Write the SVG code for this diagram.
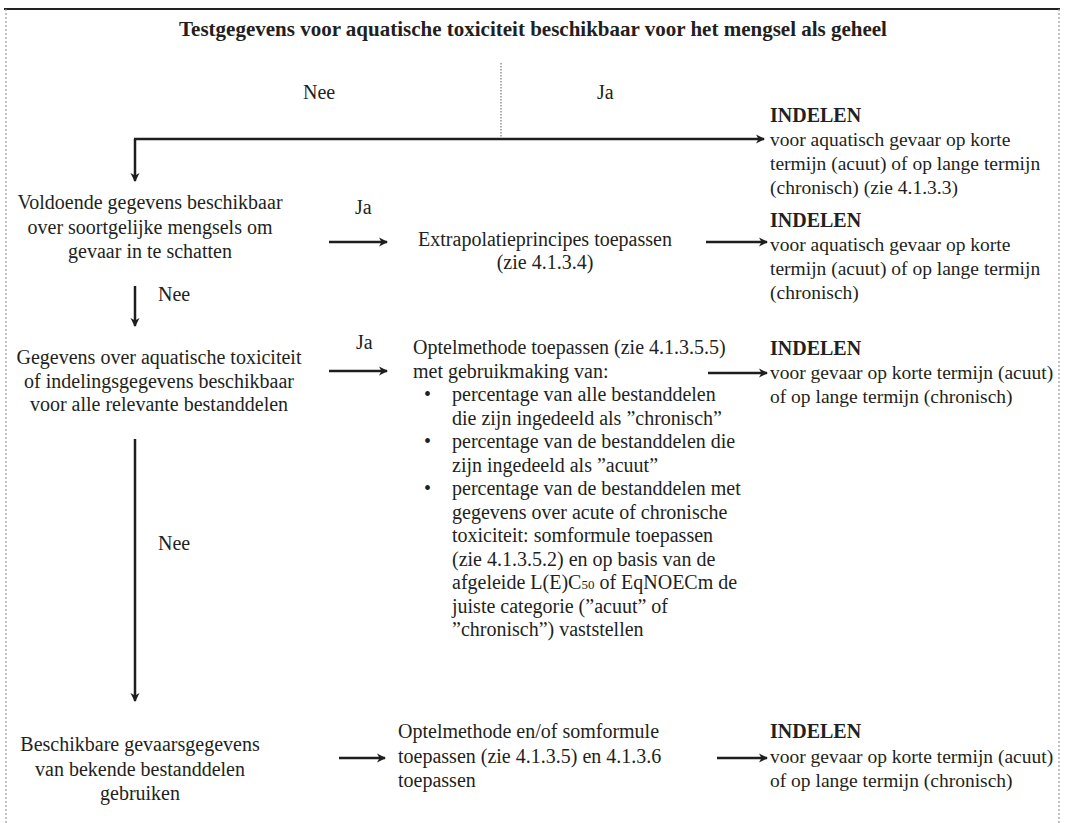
<svg xmlns="http://www.w3.org/2000/svg" width="1066" height="823" viewBox="0 0 1066 823">
<style>
  text { font-family: "Liberation Serif", "Times New Roman", serif; font-size: 20px; fill: #231f20; }
  .b { font-weight: bold; }
  .t { font-size: 21px; }
  .r { font-size: 19.5px; }
  .c { text-anchor: middle; }
  .ln { stroke: #1e1e1e; stroke-width: 2.5; fill: none; }
  .dot { stroke: #9a9a9a; stroke-width: 1.6; stroke-dasharray: 1.5 1.5; fill: none; }
  .frame { stroke: #9a9a9a; stroke-width: 1.2; stroke-dasharray: 2 2; fill: none; }
</style>
<defs>
  <marker id="ah" markerUnits="userSpaceOnUse" markerWidth="12" markerHeight="12" refX="9" refY="6" orient="auto">
    <path d="M1,1.5 L10,6 L1,10.5 L3.5,6 Z" fill="#1e1e1e"/>
  </marker>
</defs>
<rect width="1066" height="823" fill="#fff"/>
<g id="frame">
  <line x1="4" y1="9" x2="1060" y2="9" stroke="#222" stroke-width="2"/>
  <line x1="6" y1="9" x2="6" y2="823" class="frame" stroke="#444"/>
  <line x1="1059" y1="9" x2="1059" y2="823" class="frame"/>
</g>
<g id="title">
  <text x="533" y="36" class="b c t">Testgegevens voor aquatische toxiciteit beschikbaar voor het mengsel als geheel</text>
</g>
<g id="connectors">
  <line x1="501" y1="63" x2="501" y2="139" class="dot"/>
  <line x1="134" y1="139" x2="764" y2="139" class="ln" marker-end="url(#ah)"/>
  <line x1="135" y1="139" x2="135" y2="181" class="ln" marker-end="url(#ah)"/>
  <line x1="329" y1="242" x2="387" y2="242" class="ln" marker-end="url(#ah)"/>
  <line x1="706" y1="242" x2="767" y2="242" class="ln" marker-end="url(#ah)"/>
  <line x1="135" y1="286" x2="135" y2="326" class="ln" marker-end="url(#ah)"/>
  <line x1="329" y1="371" x2="387" y2="371" class="ln" marker-end="url(#ah)"/>
  <line x1="708" y1="373" x2="767" y2="373" class="ln" marker-end="url(#ah)"/>
  <line x1="135" y1="439" x2="135" y2="701" class="ln" marker-end="url(#ah)"/>
  <line x1="339" y1="758" x2="385" y2="758" class="ln" marker-end="url(#ah)"/>
  <line x1="717" y1="758" x2="767" y2="758" class="ln" marker-end="url(#ah)"/>
  <text x="303" y="99">Nee</text>
  <text x="597" y="99">Ja</text>
  <text x="355" y="214">Ja</text>
  <text x="158" y="301">Nee</text>
  <text x="356" y="349">Ja</text>
  <text x="158" y="550">Nee</text>
</g>
<g id="indelen1">
  <text x="770" y="122" class="b">INDELEN</text>
  <text x="770" y="146" class="r">voor aquatisch gevaar op korte</text>
  <text x="770" y="170" class="r">termijn (acuut) of op lange termijn</text>
  <text x="770" y="194" class="r">(chronisch) (zie 4.1.3.3)</text>
</g>
<g id="voldoende">
  <text x="150" y="209" class="c">Voldoende gegevens beschikbaar</text>
  <text x="150" y="234" class="c">over soortgelijke mengsels om</text>
  <text x="150" y="258" class="c">gevaar in te schatten</text>
</g>
<g id="extrapolatie">
  <text x="545" y="246" class="c">Extrapolatieprincipes toepassen</text>
  <text x="545" y="269" class="c">(zie 4.1.3.4)</text>
</g>
<g id="indelen2">
  <text x="770" y="227" class="b">INDELEN</text>
  <text x="770" y="251" class="r">voor aquatisch gevaar op korte</text>
  <text x="770" y="275" class="r">termijn (acuut) of op lange termijn</text>
  <text x="770" y="299" class="r">(chronisch)</text>
</g>
<g id="gegevens">
  <text x="159" y="364" class="c">Gegevens over aquatische toxiciteit</text>
  <text x="159" y="388" class="c">of indelingsgegevens beschikbaar</text>
  <text x="159" y="411" class="c">voor alle relevante bestanddelen</text>
</g>
<g id="optelmethode">
  <text x="413" y="354">Optelmethode toepassen (zie 4.1.3.5.5)</text>
  <text x="413" y="378">met gebruikmaking van:</text>
  <text x="424" y="401">•</text>
  <text x="452" y="401">percentage van alle bestanddelen</text>
  <text x="452" y="425">die zijn ingedeeld als ”chronisch”</text>
  <text x="424" y="448">•</text>
  <text x="452" y="448">percentage van de bestanddelen die</text>
  <text x="452" y="472">zijn ingedeeld als ”acuut”</text>
  <text x="424" y="495">•</text>
  <text x="452" y="495">percentage van de bestanddelen met</text>
  <text x="452" y="519">gegevens over acute of chronische</text>
  <text x="452" y="542">toxiciteit: somformule toepassen</text>
  <text x="452" y="566">(zie 4.1.3.5.2) en op basis van de</text>
  <text x="452" y="589">afgeleide L(E)C<tspan font-size="13">50</tspan> of EqNOECm de</text>
  <text x="452" y="613">juiste categorie (”acuut” of</text>
  <text x="452" y="636">”chronisch”) vaststellen</text>
</g>
<g id="indelen3">
  <text x="770" y="355" class="b">INDELEN</text>
  <text x="770" y="379" class="r">voor gevaar op korte termijn (acuut)</text>
  <text x="770" y="403" class="r">of op lange termijn (chronisch)</text>
</g>
<g id="beschikbare">
  <text x="140" y="751" class="c">Beschikbare gevaarsgegevens</text>
  <text x="140" y="776" class="c">van bekende bestanddelen</text>
  <text x="140" y="800" class="c">gebruiken</text>
</g>
<g id="optelmethode2">
  <text x="398" y="738">Optelmethode en/of somformule</text>
  <text x="398" y="763">toepassen (zie 4.1.3.5) en 4.1.3.6</text>
  <text x="398" y="787">toepassen</text>
</g>
<g id="indelen4">
  <text x="770" y="738" class="b">INDELEN</text>
  <text x="770" y="763" class="r">voor gevaar op korte termijn (acuut)</text>
  <text x="770" y="787" class="r">of op lange termijn (chronisch)</text>
</g>
</svg>
